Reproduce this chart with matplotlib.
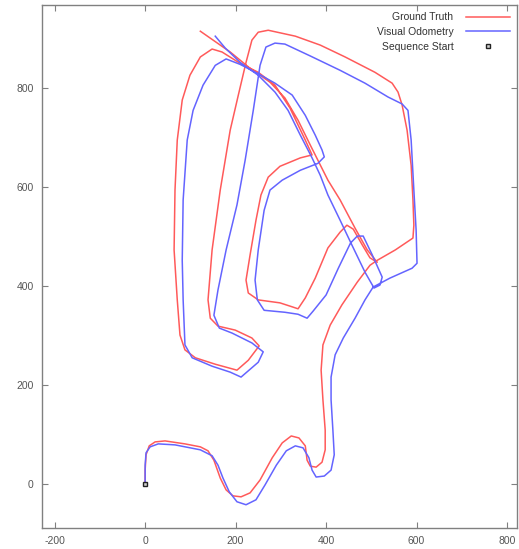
import numpy as np
from matplotlib import pyplot as plt

plt.rcParams['font.family'] = ['Liberation Sans', 'DejaVu Sans']
plt.rcParams['axes.unicode_minus'] = False


# =============================================================================
# data (x, z in metres)
# =============================================================================

gt_x = [0, 0, 2, 9, 22, 44, 88, 122, 139, 152, 166, 179, 194, 212, 232, 254, 281, 303,
        323, 340, 354, 358, 365, 378, 391, 398, 398, 393, 389, 393, 409, 435, 469, 497,
        513, 553, 592, 594, 592, 588, 579, 568, 559, 546, 508, 442, 387, 332, 272, 250,
        236, 223, 206, 188, 166, 148, 139, 144, 161, 199, 236, 252, 228, 203, 155, 111,
        88, 77, 71, 64, 66, 71, 82, 99, 122, 148, 170, 210, 250, 287, 320, 354, 369,
        343, 298, 272, 256, 245, 232, 223, 228, 250, 298, 325, 338, 354, 376, 404, 431,
        446, 460, 480, 497, 513, 491, 464, 431, 404, 382, 365, 338, 309, 276, 232, 188,
        144, 122]
gt_y = [0, 28, 59, 77, 85, 87, 81, 75, 67, 48, 12, -12, -24, -26, -18, 8, 53, 83,
        97, 93, 77, 48, 36, 34, 44, 69, 109, 170, 230, 281, 321, 362, 408, 442,
        452, 473, 497, 523, 574, 644, 715, 766, 792, 810, 832, 863, 887, 905, 917, 913,
        897, 852, 786, 715, 594, 473, 372, 335, 319, 311, 295, 279, 250, 230, 242, 255,
        271, 301, 372, 473, 594, 695, 776, 826, 863, 879, 873, 850, 832, 806, 760, 695, 665,
        659, 642, 620, 584, 533, 463, 412, 386, 372, 366, 358, 354, 376, 416, 477, 509,
        523, 515, 483, 457, 448, 473, 517, 574, 614, 654, 685, 735, 780, 812, 840, 873,
        901, 915]

vo_x = [0, 0, 2, 11, 29, 66, 122, 148, 161, 172, 186, 203, 223, 245, 265, 290, 312, 332,
        349, 362, 369, 378, 396, 411, 418, 415, 411, 411, 420, 438, 464, 486, 504, 541,
        590, 601, 599, 594, 588, 581, 568, 537, 486, 431, 365, 309, 287, 267, 254, 239,
        221, 203, 179, 161, 152, 164, 192, 236, 261, 250, 212, 188, 148, 104, 88, 84,
        82, 84, 93, 106, 128, 155, 179, 210, 248, 287, 325, 354, 376, 391, 396, 382,
        343, 303, 276, 263, 250, 243, 248, 263, 309, 338, 358, 371, 400, 427, 454, 469,
        482, 502, 524, 519, 506, 486, 457, 431, 404, 387, 369, 343, 316, 287, 250, 210,
        177, 155]
vo_y = [0, 38, 63, 75, 81, 79, 69, 57, 38, 12, -16, -36, -42, -32, -2, 38, 67, 77,
        73, 53, 28, 14, 16, 28, 59, 109, 170, 216, 261, 295, 335, 372, 398, 416,
        436, 446, 513, 594, 695, 755, 768, 782, 810, 836, 865, 889, 891, 883, 846, 755,
        654, 564, 473, 392, 341, 315, 305, 285, 267, 246, 216, 226, 238, 255, 281, 372,
        452, 574, 695, 755, 806, 846, 859, 848, 830, 810, 786, 745, 705, 675, 661, 648,
        634, 614, 594, 553, 473, 412, 372, 351, 347, 343, 335, 349, 382, 436, 487, 501,
        501, 463, 418, 402, 396, 428, 483, 533, 584, 624, 659, 705, 755, 792, 826, 852,
        881, 905]

start_x = [0]
start_y = [0]

x_ticks = [-200, 0, 200, 400, 600, 800]
y_ticks = [0, 200, 400, 600, 800]


# =============================================================================
# plot
# =============================================================================

fig = plt.figure(figsize=(5.19, 5.49), dpi=100)
ax = fig.add_axes([42 / 519, 21 / 549, 475 / 519, 523 / 549])

ax.plot(gt_x, gt_y, color='#ff5a5a', lw=1.1, label='Ground Truth')
ax.plot(vo_x, vo_y, color='#6464ff', lw=1.1, label='Visual Odometry')
ax.plot(start_x, start_y, ls='none', marker='s', ms=3.5, mfc='#d0d0d0', mec='#222222',
        mew=1.0, label='Sequence Start')

ax.set_xlim(-228, 822)
ax.set_ylim(-89, 968)
ax.set_xticks(x_ticks)
ax.set_yticks(y_ticks)

for side in ax.spines.values():
    side.set_color('#808080')
    side.set_linewidth(1.0)
ax.tick_params(direction='in', length=4, width=0.8, color='#808080', top=True, right=True,
               labelsize=7.5, labelcolor='#555555', pad=6)

leg = ax.legend(loc='upper right', frameon=False, markerfirst=False, fontsize=7.5,
                handlelength=4.2, labelspacing=0.45, borderaxespad=0.3, handletextpad=1.2)
for t in leg.get_texts():
    t.set_color('#333333')
    t.set_ha('right')

fig.savefig('out.png', dpi=100)
